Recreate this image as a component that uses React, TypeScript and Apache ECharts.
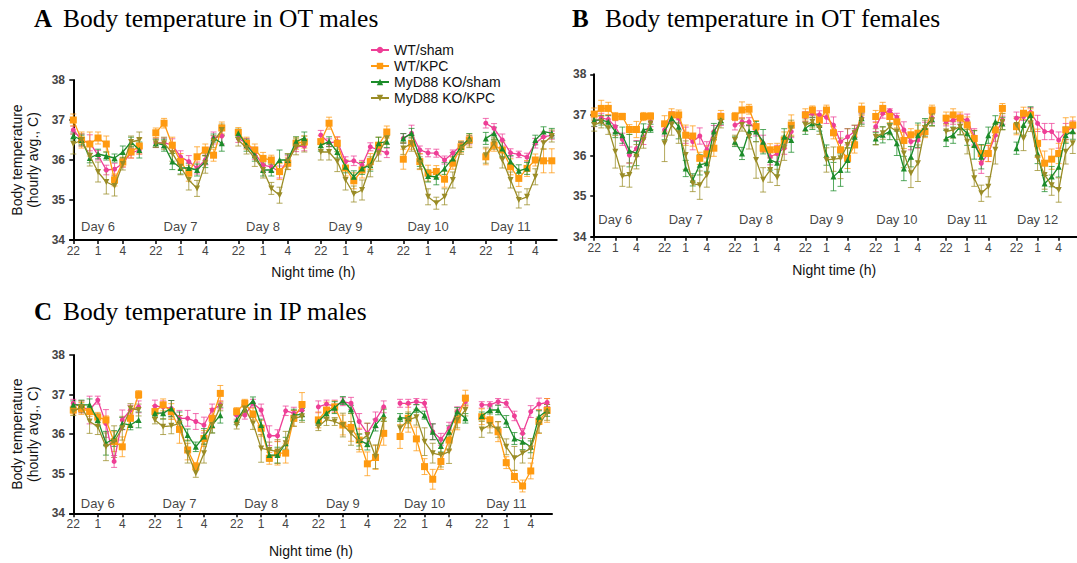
import React, { useEffect, useRef } from "react";
import * as echarts from "echarts";

// ---------- data ----------
const GROUPS = ["WT/sham", "WT/KPC", "MyD88 KO/sham", "MyD88 KO/KPC"];
const HOUR_LABELS = ["22", "1", "4"]; // at hour offsets 0, 3, 6 of each night
const DAYS_A = [6, 7, 8, 9, 10, 11];
const DAYS_B = [6, 7, 8, 9, 10, 11, 12];
const DAYS_C = [6, 7, 8, 9, 10, 11];

// Panel A: OT males (9 hourly points per night: 22,23,0,1,2,3,4,5,6)
const A_WT_SHAM = [
  36.75, 36.5, 36.43, 36.12, 35.75, 35.77, 35.92, 36.17, 36.25,
  36.43, 36.43, 36.38, 36.08, 35.96, 35.8, 36.0, 36.55, 36.6,
  36.54, 36.42, 36.17, 35.87, 35.83, 35.7, 36.0, 36.33, 36.35,
  36.62, 36.43, 36.46, 35.96, 35.98, 35.87, 36.33, 36.25, 36.18,
  36.54, 36.67, 36.25, 36.18, 36.17, 36.0, 36.17, 36.37, 36.5,
  36.92, 36.79, 36.5, 36.18, 36.14, 36.07, 36.42, 36.58, 36.62,
];
const A_WT_KPC = [
  37.0, 36.5, 36.4, 36.55, 36.4, 35.5, 35.95, 36.2, 36.35,
  36.68, 36.92, 36.37, 35.96, 35.67, 36.08, 36.25, 36.12, 36.8,
  36.69, 36.42, 36.25, 36.04, 36.0, 35.71, 35.92, 36.42, 36.45,
  36.46, 36.92, 36.42, 35.8, 35.48, 35.75, 35.96, 36.37, 36.7,
  36.02, 36.42, 35.96, 35.67, 35.71, 35.52, 35.92, 36.33, 36.5,
  36.08, 36.37, 36.25, 35.83, 35.54, 35.79, 36.0, 35.98, 35.98,
];
const A_KO_SHAM = [
  36.6, 36.5, 36.05, 36.15, 36.1, 36.05, 36.2, 36.45, 36.25,
  36.42, 36.37, 35.96, 35.8, 35.8, 35.75, 35.96, 36.55, 36.42,
  36.67, 36.37, 36.12, 35.75, 35.75, 36.0, 36.0, 36.46, 36.55,
  36.37, 36.46, 36.2, 35.83, 35.58, 35.79, 35.87, 36.42, 36.46,
  36.54, 36.67, 36.04, 35.6, 35.58, 35.79, 36.04, 36.33, 36.54,
  36.54, 36.67, 36.29, 35.96, 35.73, 35.79, 36.5, 36.71, 36.67,
];
const A_KO_KPC = [
  36.4, 36.5, 36.1, 35.7, 35.45, 35.35, 35.9, 36.45, 36.5,
  36.42, 36.42, 36.17, 35.83, 35.5, 35.29, 35.92, 36.46, 36.75,
  36.5, 36.3, 36.04, 35.75, 35.29, 35.12, 35.96, 36.33, 36.4,
  36.2, 36.2, 35.96, 35.5, 35.15, 35.25, 35.83, 36.17, 36.54,
  36.29, 36.42, 35.93, 35.08, 34.92, 35.08, 35.5, 36.29, 36.46,
  36.12, 36.42, 36.0, 35.5, 35.0, 35.08, 35.58, 36.42, 36.6,
];
const A_WT_SHAM_SEM = [
  0.1, 0.15, 0.2, 0.12, 0.12, 0.15, 0.1, 0.12, 0.1,
  0.12, 0.12, 0.15, 0.15, 0.15, 0.15, 0.12, 0.15, 0.2,
  0.1, 0.12, 0.15, 0.15, 0.12, 0.15, 0.12, 0.12, 0.12,
  0.12, 0.1, 0.12, 0.12, 0.12, 0.12, 0.1, 0.12, 0.12,
  0.12, 0.2, 0.1, 0.1, 0.1, 0.1, 0.08, 0.08, 0.1,
  0.12, 0.12, 0.15, 0.1, 0.08, 0.1, 0.12, 0.12, 0.1,
];
const A_WT_KPC_SEM = [
  0.15, 0.2, 0.3, 0.15, 0.2, 0.15, 0.12, 0.15, 0.2,
  0.12, 0.12, 0.2, 0.2, 0.2, 0.25, 0.15, 0.15, 0.15,
  0.12, 0.15, 0.15, 0.15, 0.12, 0.2, 0.15, 0.15, 0.15,
  0.15, 0.15, 0.15, 0.2, 0.2, 0.2, 0.2, 0.2, 0.15,
  0.25, 0.15, 0.2, 0.2, 0.15, 0.2, 0.15, 0.15, 0.15,
  0.2, 0.15, 0.2, 0.2, 0.2, 0.2, 0.15, 0.3, 0.3,
];
const A_KO_SHAM_SEM = [
  0.1, 0.12, 0.12, 0.12, 0.1, 0.1, 0.15, 0.12, 0.2,
  0.1, 0.15, 0.2, 0.15, 0.12, 0.15, 0.15, 0.1, 0.2,
  0.1, 0.15, 0.15, 0.15, 0.15, 0.25, 0.15, 0.12, 0.15,
  0.15, 0.12, 0.15, 0.15, 0.15, 0.15, 0.15, 0.15, 0.15,
  0.12, 0.12, 0.2, 0.15, 0.2, 0.15, 0.15, 0.12, 0.12,
  0.15, 0.15, 0.2, 0.15, 0.15, 0.15, 0.12, 0.12, 0.12,
];
const A_KO_KPC_SEM = [
  0.25, 0.15, 0.25, 0.25, 0.3, 0.25, 0.15, 0.15, 0.2,
  0.1, 0.15, 0.2, 0.2, 0.25, 0.2, 0.25, 0.15, 0.15,
  0.15, 0.15, 0.2, 0.2, 0.15, 0.2, 0.2, 0.2, 0.2,
  0.2, 0.2, 0.25, 0.25, 0.2, 0.25, 0.25, 0.2, 0.15,
  0.15, 0.2, 0.15, 0.2, 0.15, 0.2, 0.2, 0.15, 0.15,
  0.2, 0.15, 0.2, 0.2, 0.2, 0.2, 0.2, 0.15, 0.15,
];

// Panel B: OT females
const B_WT_SHAM = [
  36.83, 36.92, 36.89, 36.71, 36.4, 36.01, 36.17, 36.42, 36.83,
  36.63, 36.96, 36.92, 36.5, 36.34, 36.48, 36.14, 36.59, 36.89,
  36.75, 36.83, 36.83, 36.63, 36.3, 35.97, 36.05, 36.18, 36.59,
  36.96, 37.04, 37.0, 36.94, 36.75, 36.34, 36.46, 36.59, 36.92,
  36.71, 37.04, 37.1, 36.94, 36.63, 36.34, 36.38, 36.67, 36.92,
  36.83, 36.87, 36.92, 36.87, 36.46, 35.81, 36.05, 36.5, 36.87,
  36.92, 36.96, 37.06, 36.79, 36.59, 36.59, 36.38, 36.59, 36.7,
];
const B_WT_KPC = [
  37.02, 37.16, 37.16, 36.96, 36.96, 36.64, 36.64, 36.96, 36.97,
  36.78, 37.0, 37.0, 36.5, 36.48, 35.93, 36.04, 36.18, 36.96,
  36.96, 37.12, 37.14, 36.71, 36.18, 36.14, 36.15, 36.38, 36.75,
  37.0, 37.12, 36.87, 37.12, 36.56, 36.14, 35.93, 36.26, 37.14,
  36.96, 37.16, 36.96, 36.83, 36.37, 36.51, 36.55, 36.59, 37.12,
  36.92, 37.0, 36.92, 36.75, 36.42, 36.05, 36.05, 36.63, 37.16,
  36.71, 37.04, 37.0, 36.3, 35.81, 35.91, 36.05, 36.63, 36.75,
];
const B_KO_SHAM = [
  36.87, 36.87, 36.83, 36.59, 36.5, 36.12, 36.05, 36.63, 36.67,
  36.59, 36.92, 36.71, 35.68, 35.4, 35.77, 35.81, 36.59, 36.87,
  36.34, 36.05, 36.59, 36.59, 36.34, 35.89, 35.82, 36.46, 36.38,
  36.67, 36.79, 36.75, 36.01, 35.48, 35.64, 35.89, 36.46, 36.92,
  36.42, 36.51, 36.59, 36.3, 35.68, 35.97, 36.5, 36.71, 36.89,
  36.42, 36.5, 36.71, 36.55, 36.26, 35.97, 36.5, 36.83, 36.79,
  36.18, 36.75, 37.0, 36.05, 35.31, 35.48, 35.72, 36.5, 36.6,
];
const B_KO_KPC = [
  36.75, 36.83, 36.67, 36.09, 35.49, 35.52, 35.97, 36.38, 36.79,
  36.3, 36.75, 36.55, 36.01, 35.31, 35.27, 35.52, 36.38, 36.83,
  36.38, 36.75, 36.46, 35.89, 35.4, 35.64, 35.46, 36.18, 36.67,
  36.75, 36.83, 36.67, 35.89, 35.91, 35.93, 36.26, 36.55, 36.87,
  36.46, 36.55, 36.71, 36.59, 36.05, 35.56, 35.81, 36.67, 36.87,
  36.59, 36.63, 36.71, 36.34, 35.44, 35.07, 35.23, 36.14, 36.83,
  36.75, 36.42, 36.79, 35.93, 35.52, 35.27, 35.15, 36.09, 36.3,
];
const B_WT_SHAM_SEM = [
  0.12, 0.12, 0.1, 0.15, 0.15, 0.2, 0.2, 0.15, 0.12,
  0.15, 0.12, 0.12, 0.2, 0.2, 0.2, 0.2, 0.15, 0.15,
  0.12, 0.1, 0.1, 0.15, 0.2, 0.2, 0.2, 0.15, 0.15,
  0.12, 0.1, 0.1, 0.15, 0.2, 0.25, 0.2, 0.15, 0.12,
  0.12, 0.12, 0.05, 0.1, 0.2, 0.2, 0.2, 0.15, 0.12,
  0.1, 0.1, 0.1, 0.15, 0.2, 0.25, 0.2, 0.15, 0.1,
  0.15, 0.1, 0.12, 0.2, 0.2, 0.2, 0.2, 0.2, 0.15,
];
const B_WT_KPC_SEM = [
  0.15, 0.2, 0.15, 0.1, 0.08, 0.12, 0.2, 0.1, 0.08,
  0.2, 0.15, 0.12, 0.25, 0.25, 0.15, 0.2, 0.2, 0.15,
  0.1, 0.2, 0.12, 0.15, 0.1, 0.15, 0.15, 0.2, 0.25,
  0.15, 0.1, 0.15, 0.12, 0.15, 0.2, 0.25, 0.2, 0.15,
  0.15, 0.15, 0.15, 0.15, 0.2, 0.15, 0.2, 0.15, 0.12,
  0.15, 0.15, 0.15, 0.2, 0.2, 0.2, 0.2, 0.15, 0.12,
  0.2, 0.15, 0.15, 0.35, 0.3, 0.25, 0.25, 0.3, 0.2,
];
const B_KO_SHAM_SEM = [
  0.15, 0.12, 0.15, 0.15, 0.2, 0.4, 0.3, 0.15, 0.1,
  0.2, 0.12, 0.3, 0.2, 0.15, 0.25, 0.2, 0.2, 0.1,
  0.12, 0.15, 0.15, 0.25, 0.3, 0.25, 0.3, 0.2, 0.3,
  0.15, 0.15, 0.15, 0.25, 0.35, 0.4, 0.3, 0.2, 0.15,
  0.15, 0.2, 0.2, 0.3, 0.3, 0.25, 0.3, 0.2, 0.15,
  0.2, 0.2, 0.2, 0.3, 0.35, 0.3, 0.2, 0.15, 0.15,
  0.15, 0.25, 0.2, 0.25, 0.2, 0.25, 0.25, 0.2, 0.2,
];
const B_KO_KPC_SEM = [
  0.15, 0.15, 0.15, 0.4, 0.25, 0.3, 0.3, 0.2, 0.15,
  0.45, 0.25, 0.25, 0.35, 0.2, 0.35, 0.3, 0.2, 0.15,
  0.12, 0.15, 0.3, 0.45, 0.3, 0.3, 0.2, 0.3, 0.2,
  0.15, 0.15, 0.15, 0.3, 0.3, 0.5, 0.4, 0.2, 0.15,
  0.2, 0.15, 0.2, 0.2, 0.35, 0.35, 0.45, 0.2, 0.15,
  0.2, 0.2, 0.2, 0.3, 0.2, 0.2, 0.25, 0.35, 0.2,
  0.2, 0.3, 0.2, 0.3, 0.35, 0.25, 0.3, 0.3, 0.25,
];

// Panel C: IP males
const C_WT_SHAM = [
  36.78, 36.69, 36.61, 36.86, 36.27, 35.31, 36.36, 36.61, 36.69,
  36.71, 36.69, 36.65, 36.4, 36.4, 36.32, 36.23, 36.61, 36.74,
  36.48, 36.48, 36.78, 36.61, 35.96, 35.96, 36.59, 36.53, 36.6,
  36.69, 36.76, 36.71, 36.82, 36.78, 36.32, 36.02, 36.36, 36.69,
  36.78, 36.78, 36.82, 36.78, 36.06, 35.87, 36.15, 36.57, 36.82,
  36.74, 36.74, 36.82, 36.78, 36.46, 36.02, 36.57, 36.76, 36.8,
];
const C_WT_KPC = [
  36.61, 36.65, 36.57, 36.43, 36.36, 35.81, 35.68, 36.4, 37.0,
  36.57, 36.74, 36.57, 36.12, 35.6, 35.18, 35.89, 36.4, 37.03,
  36.57, 36.78, 36.51, 36.15, 35.39, 35.52, 35.52, 36.4, 36.75,
  36.36, 36.61, 36.69, 36.23, 36.17, 35.85, 35.25, 35.41, 36.02,
  35.94, 36.4, 35.88, 35.18, 34.86, 35.31, 35.85, 36.36, 36.91,
  36.44, 36.36, 36.06, 35.28, 34.93, 34.69, 35.07, 36.32, 36.6,
];
const C_KO_SHAM = [
  36.74, 36.74, 36.74, 36.36, 35.77, 35.89, 36.27, 36.23, 36.36,
  36.53, 36.53, 36.65, 36.36, 35.98, 35.68, 35.94, 36.23, 36.48,
  36.36, 36.65, 36.84, 36.23, 35.47, 35.47, 35.77, 36.48, 36.5,
  36.32, 36.53, 36.67, 36.85, 36.63, 35.85, 35.75, 36.23, 36.48,
  36.42, 36.4, 36.65, 36.48, 36.06, 35.7, 36.06, 36.57, 36.4,
  36.46, 36.61, 36.61, 36.32, 35.89, 35.81, 35.68, 36.44, 36.6,
];
const C_KO_KPC = [
  36.57, 36.69, 36.32, 36.19, 35.68, 35.81, 36.15, 36.65, 36.61,
  36.36, 36.19, 36.21, 36.27, 35.52, 35.01, 35.52, 36.23, 36.69,
  36.23, 36.65, 36.27, 35.64, 35.6, 35.56, 35.77, 36.4, 36.45,
  36.19, 36.37, 36.32, 36.23, 36.02, 35.81, 35.98, 35.43, 36.36,
  36.15, 36.36, 36.43, 35.81, 35.52, 35.47, 35.56, 36.36, 36.61,
  36.12, 36.23, 36.12, 35.68, 35.39, 35.52, 35.64, 36.23, 36.55,
];
const C_WT_SHAM_SEM = [
  0.1, 0.15, 0.35, 0.1, 0.35, 0.15, 0.25, 0.12, 0.15,
  0.15, 0.15, 0.2, 0.2, 0.2, 0.2, 0.2, 0.15, 0.1,
  0.1, 0.1, 0.1, 0.15, 0.25, 0.15, 0.12, 0.15, 0.15,
  0.15, 0.1, 0.15, 0.1, 0.15, 0.2, 0.25, 0.2, 0.15,
  0.1, 0.1, 0.08, 0.1, 0.2, 0.15, 0.15, 0.12, 0.1,
  0.08, 0.08, 0.08, 0.1, 0.12, 0.12, 0.15, 0.15, 0.1,
];
const C_WT_KPC_SEM = [
  0.1, 0.15, 0.12, 0.12, 0.1, 0.25, 0.25, 0.2, 0.1,
  0.15, 0.15, 0.2, 0.35, 0.25, 0.1, 0.2, 0.25, 0.2,
  0.1, 0.1, 0.15, 0.2, 0.15, 0.3, 0.25, 0.2, 0.3,
  0.2, 0.2, 0.15, 0.25, 0.35, 0.3, 0.3, 0.3, 0.3,
  0.3, 0.35, 0.3, 0.2, 0.25, 0.2, 0.25, 0.25, 0.2,
  0.2, 0.2, 0.25, 0.15, 0.15, 0.15, 0.2, 0.3, 0.3,
];
const C_KO_SHAM_SEM = [
  0.1, 0.12, 0.15, 0.15, 0.3, 0.2, 0.15, 0.12, 0.2,
  0.1, 0.15, 0.2, 0.2, 0.15, 0.12, 0.2, 0.2, 0.2,
  0.12, 0.1, 0.1, 0.15, 0.15, 0.2, 0.15, 0.15, 0.15,
  0.1, 0.12, 0.15, 0.1, 0.1, 0.15, 0.15, 0.15, 0.15,
  0.1, 0.12, 0.1, 0.1, 0.2, 0.15, 0.15, 0.1, 0.12,
  0.1, 0.1, 0.12, 0.15, 0.15, 0.2, 0.15, 0.15, 0.15,
];
const C_KO_KPC_SEM = [
  0.1, 0.15, 0.3, 0.2, 0.35, 0.4, 0.3, 0.12, 0.15,
  0.1, 0.2, 0.2, 0.2, 0.25, 0.1, 0.25, 0.2, 0.1,
  0.1, 0.1, 0.15, 0.35, 0.2, 0.3, 0.3, 0.2, 0.15,
  0.1, 0.15, 0.1, 0.3, 0.3, 0.2, 0.3, 0.3, 0.3,
  0.25, 0.2, 0.2, 0.35, 0.25, 0.3, 0.3, 0.2, 0.15,
  0.2, 0.2, 0.2, 0.2, 0.3, 0.25, 0.25, 0.2, 0.2,
];

const PANEL_TITLES = [
  { letter: "A", text: "Body temperature in OT males" },
  { letter: "B", text: "Body temperature in OT females" },
  { letter: "C", text: "Body temperature in IP males" },
];
const Y_NAME = "Body temperature\n(hourly avg., C)";
const X_NAME = "Night time (h)";

// ---------- style ----------
const COLORS = ["#EE3E96", "#FF9A10", "#1C8C2A", "#9A8C26"];
const SYMBOLS = ["circle", "rect", "triangle", "triangle"];
const SYMBOL_ROT = [0, 0, 0, 180];
const SYMBOL_SIZE = [5, 7, 6, 6];
const SANS = "'Liberation Sans', Arial, sans-serif";
const SERIF = "'Liberation Serif', 'Times New Roman', serif";

function lineData(days: number[], vals: number[]) {
  const out: any[] = [];
  days.forEach((_, d) => {
    for (let h = 0; h < 9; h++) out.push([d * 10 + h, vals[d * 9 + h]]);
    if (d < days.length - 1) out.push([d * 10 + 9, "-"]);
  });
  return out;
}
function errData(days: number[], vals: number[], sem: number[]) {
  const out: any[] = [];
  days.forEach((_, d) => {
    for (let h = 0; h < 9; h++) {
      const i = d * 9 + h;
      out.push([d * 10 + h, vals[i] - sem[i], vals[i] + sem[i]]);
    }
  });
  return out;
}
function tickValues(days: number[]) {
  const out: number[] = [];
  days.forEach((_, d) => out.push(d * 10, d * 10 + 3, d * 10 + 6));
  return out;
}

export default function App() {
  const ref = useRef<HTMLDivElement>(null);
  useEffect(() => {
    if (!ref.current) return;
    const chart = echarts.init(ref.current, undefined, { renderer: "svg" });

    const panels = [
      { days: DAYS_A, vals: [A_WT_SHAM, A_WT_KPC, A_KO_SHAM, A_KO_KPC], sems: [A_WT_SHAM_SEM, A_WT_KPC_SEM, A_KO_SHAM_SEM, A_KO_KPC_SEM], grid: { left: 70, top: 80, width: 486.75, height: 160 }, dayY: 34.35, yName: true, xGap: 25 },
      { days: DAYS_B, vals: [B_WT_SHAM, B_WT_KPC, B_KO_SHAM, B_KO_KPC], sems: [B_WT_SHAM_SEM, B_WT_KPC_SEM, B_KO_SHAM_SEM, B_KO_KPC_SEM], grid: { left: 591.4, top: 74.3, width: 493.4, height: 162.4 }, dayY: 34.42, yName: false, xGap: 26 },
      { days: DAYS_C, vals: [C_WT_SHAM, C_WT_KPC, C_KO_SHAM, C_KO_KPC], sems: [C_WT_SHAM_SEM, C_WT_KPC_SEM, C_KO_SHAM_SEM, C_KO_KPC_SEM], grid: { left: 70, top: 355, width: 482, height: 158.3 }, dayY: 34.25, yName: true, xGap: 31 },
    ];

    const grids: any[] = [];
    const xAxes: any[] = [];
    const yAxes: any[] = [];
    const series: any[] = [];

    panels.forEach((p, pi) => {
      grids.push({ ...p.grid, containLabel: false });
      const ticks = tickValues(p.days);
      xAxes.push({
        type: "value",
        gridIndex: pi,
        min: -0.4,
        max: p.days.length * 10 - 1.4,
        splitLine: { show: false },
        axisLine: { show: true, onZero: false, lineStyle: { color: "#000", width: 2 } },
        axisTick: { show: true, customValues: ticks, length: 4, lineStyle: { color: "#000", width: 1.5 } },
        axisLabel: {
          customValues: ticks,
          formatter: (v: number) => HOUR_LABELS[Math.round(v % 10) / 3] ?? "",
          color: "#444",
          fontSize: 12,
          fontFamily: SANS,
          margin: 5,
        },
        name: X_NAME,
        nameLocation: "middle",
        nameGap: p.xGap,
        nameTextStyle: { color: "#111", fontSize: 14, fontFamily: SANS },
      });
      yAxes.push({
        type: "value",
        gridIndex: pi,
        min: 34,
        max: 38,
        interval: 1,
        splitLine: { show: false },
        axisLine: { show: true, lineStyle: { color: "#000", width: 2 } },
        axisTick: { show: true, length: 4, lineStyle: { color: "#000", width: 1.5 } },
        axisLabel: { color: "#444", fontSize: 12, fontFamily: SANS, fontWeight: "bold", margin: 5 },
        name: p.yName ? Y_NAME : "",
        nameLocation: "middle",
        nameGap: 29,
        nameTextStyle: { color: "#111", fontSize: 14, fontFamily: SANS, lineHeight: 16 },
      });

      GROUPS.forEach((g, gi) => {
        series.push({
          type: "line",
          name: g,
          xAxisIndex: pi,
          yAxisIndex: pi,
          data: lineData(p.days, p.vals[gi]),
          connectNulls: false,
          symbol: SYMBOLS[gi],
          symbolRotate: SYMBOL_ROT[gi],
          symbolSize: SYMBOL_SIZE[gi],
          showSymbol: true,
          color: COLORS[gi],
          lineStyle: { color: COLORS[gi], width: 1.3 },
          itemStyle: { color: COLORS[gi] },
          z: 3 + gi,
          silent: true,
        });
      });
      GROUPS.forEach((g, gi) => {
        const col = COLORS[gi];
        series.push({
          type: "custom",
          name: g,
          xAxisIndex: pi,
          yAxisIndex: pi,
          data: errData(p.days, p.vals[gi], p.sems[gi]),
          encode: { x: 0, y: [1, 2] },
          z: 2,
          silent: true,
          renderItem: (_params: any, api: any) => {
            const x = api.value(0);
            const hi = api.coord([x, api.value(2)]);
            const lo = api.coord([x, api.value(1)]);
            const w = 3;
            const style = { stroke: col, lineWidth: 1, opacity: 0.75 };
            return {
              type: "group",
              children: [
                { type: "line", shape: { x1: hi[0], y1: hi[1], x2: lo[0], y2: lo[1] }, style },
                { type: "line", shape: { x1: hi[0] - w, y1: hi[1], x2: hi[0] + w, y2: hi[1] }, style },
                { type: "line", shape: { x1: lo[0] - w, y1: lo[1], x2: lo[0] + w, y2: lo[1] }, style },
              ],
            };
          },
        });
      });
      series.push({
        type: "scatter",
        xAxisIndex: pi,
        yAxisIndex: pi,
        symbolSize: 0,
        silent: true,
        data: p.days.map((day, d) => ({ value: [d * 10 + 3, p.dayY], name: "Day " + day })),
        label: {
          show: true,
          position: "inside",
          formatter: (pr: any) => pr.name,
          color: "#111",
          fontSize: 13,
          fontFamily: SANS,
        },
      });
    });

    const titlePos = [
      { lx: 34, tx: 63, y: 18 },
      { lx: 572, tx: 605, y: 18 },
      { lx: 34, tx: 63, y: 311 },
    ];
    const graphic: any[] = [];
    PANEL_TITLES.forEach((t, i) => {
      const pos = titlePos[i];
      graphic.push({
        type: "text",
        x: pos.lx,
        y: pos.y,
        style: { text: t.letter, fontFamily: SERIF, fontSize: 25, fontWeight: "bold", fill: "#000", verticalAlign: "middle", align: "left" },
      });
      graphic.push({
        type: "text",
        x: pos.tx,
        y: pos.y,
        style: { text: t.text, fontFamily: SERIF, fontSize: 25.5, fill: "#000", verticalAlign: "middle", align: "left" },
      });
    });

    chart.setOption({
      animation: false,
      backgroundColor: "#fff",
      grid: grids,
      xAxis: xAxes,
      yAxis: yAxes,
      series,
      graphic,
      legend: {
        data: GROUPS,
        orient: "vertical",
        left: 365,
        top: 38,
        itemWidth: 18,
        itemHeight: 8,
        itemGap: 2,
        selectedMode: false,
        textStyle: { color: "#111", fontSize: 14, fontFamily: SANS },
      },
    });
    return () => chart.dispose();
  }, []);

  return (
    <div
      ref={ref}
      style={{ position: "absolute", left: 0, top: 0, width: 1077, height: 563, background: "#fff" }}
    />
  );
}
